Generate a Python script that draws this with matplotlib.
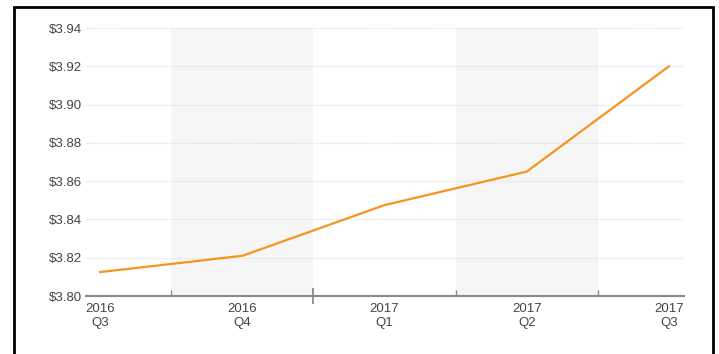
import matplotlib.pyplot as plt
from matplotlib.patches import Rectangle

quarters = ["2016\nQ3", "2016\nQ4", "2017\nQ1", "2017\nQ2", "2017\nQ3"]
prices = [3.8125, 3.821, 3.8475, 3.865, 3.920]
y_ticks = [3.80, 3.82, 3.84, 3.86, 3.88, 3.90, 3.92, 3.94]
shaded = [1, 3]

plt.rcParams['font.family'] = ['Liberation Sans', 'DejaVu Sans']

fig = plt.figure(figsize=(7.19, 3.54), dpi=100)
ax = fig.add_axes([86 / 719, 1 - 296 / 354, (684 - 86) / 719, (296 - 28) / 354])

x = list(range(len(quarters)))
for i in shaded:
    ax.axvspan(i - 0.5, i + 0.5, color='#f6f6f6', zorder=0, lw=0)

ax.plot(x, prices, color='#f7941d', lw=1.6, zorder=3)

ax.set_xlim(-0.1, len(quarters) - 1 + 0.106)
ax.set_ylim(3.80, 3.94)
ax.set_yticks(y_ticks)
ax.set_yticklabels(["${:.2f}".format(v) for v in y_ticks])
ax.set_xticks(x)
ax.set_xticklabels(quarters)
ax.set_xticks([i + 0.5 for i in range(len(quarters) - 1)], minor=True)

ax.grid(axis='y', linestyle=(0, (1, 1.5)), color='#d8d8d8', lw=0.8)
ax.set_axisbelow(True)

for s in ['top', 'right', 'left']:
    ax.spines[s].set_visible(False)
ax.spines['bottom'].set_color('#8a8a8a')
ax.spines['bottom'].set_linewidth(1.5)

ax.tick_params(axis='y', length=0, pad=3, labelsize=9.5, labelcolor='#444444')
ax.tick_params(axis='x', which='major', length=0, pad=5, labelsize=9.5, labelcolor='#444444')
ax.tick_params(axis='x', which='minor', direction='in', length=4, width=1, color='#8a8a8a')

minor = ax.xaxis.get_minor_ticks()
minor[1].tick1line.set_marker('|')
minor[1].tick1line.set_markersize(12)
minor[1].tick1line.set_markeredgewidth(1.3)
minor[1].tick1line.set_color('#666666')

fig.add_artist(Rectangle((13.5 / 719, -0.05), (712.5 - 13.5) / 719, 1.05 - 7.5 / 354,
                         transform=fig.transFigure, fill=False, ec='black', lw=2))

fig.savefig('out.png', dpi=100)
